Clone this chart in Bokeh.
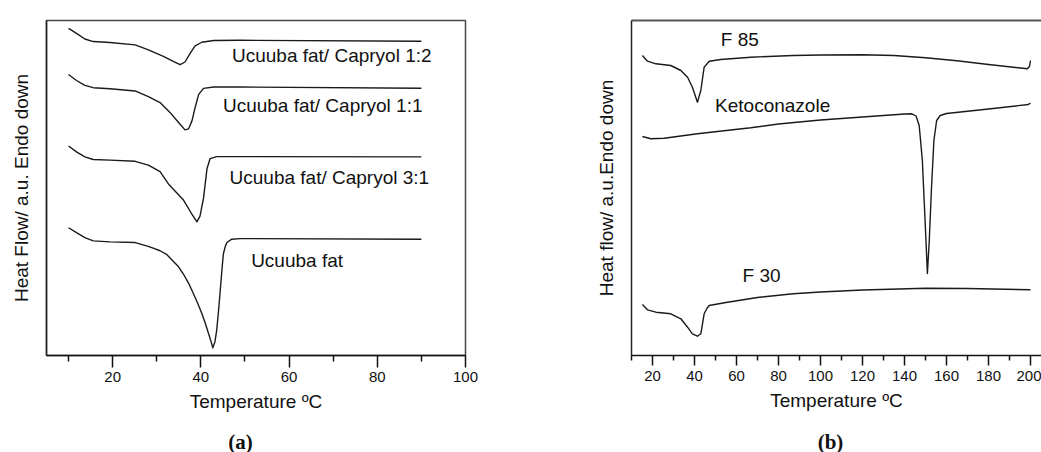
from bokeh.plotting import figure
from bokeh.layouts import row, column
from bokeh.models import Range1d, FixedTicker, LinearAxis, Label
from bokeh.core.properties import value
from bokeh.embed import file_html
from bokeh.resources import INLINE

# ---------------- Panel (a) data: temperature (°C) vs heat flow (a.u., offset) ----------------
a_x_12 = [10, 11.8, 13.7, 15.6, 19.4, 25.1, 28.1, 31.5, 34.2, 35.3, 36.4, 37.6, 38.7, 40.2, 42.9, 48.9, 90]
a_y_12 = [331, 326, 320.3, 317.7, 316.7, 314.3, 309.3, 302.7, 296.7, 294.3, 297, 306, 313.3, 317, 318.7, 319, 318]

a_x_11 = [10, 11.8, 13.7, 15.6, 19.4, 25.1, 28.1, 30.75, 33, 34.9, 36.4, 37.2, 38, 38.7, 39.5, 40.6, 42.9, 48.9, 90]
a_y_11 = [284.3, 278.3, 273.3, 271, 270, 267.7, 262, 256, 246, 236, 228.3, 229.3, 237.7, 251, 264.3, 270.3, 271.7, 271.7, 270.5]

a_x_31 = [10, 11.8, 13.7, 15.6, 19.4, 25.1, 28.1, 30.75, 32.8, 36, 38, 39.1, 39.8, 40.6, 41.4, 42.1, 43.6, 90]
a_y_31 = [212, 206, 201, 198.3, 197.7, 196.5, 192.7, 186, 172.7, 157.7, 142.7, 135.3, 141, 159.3, 189.3, 199.3, 201.3, 201]

a_x_fat = [10, 11.8, 13.7, 15.6, 19.4, 25.1, 27.7, 29.2, 30.75, 32.3, 34.9, 36, 37.2, 38.3, 39.3, 40.2, 41, 41.7, 42.3,
           42.7, 43.2, 43.6, 44, 44.4, 44.8, 45.1, 45.5, 45.9, 47, 48.9, 90]
a_y_fat = [129.3, 124.3, 119.3, 116, 115, 114.3, 111, 108.7, 106, 102, 90, 82.7, 73.3, 62.7, 52.7, 42.7, 32.7, 22.7, 14.3,
           7.7, 14, 26, 45, 66, 88, 102.7, 110, 114.3, 117.7, 118.3, 117.7]

a_labels = ["Ucuuba fat/ Capryol 1:2", "Ucuuba fat/ Capryol 1:1", "Ucuuba fat/ Capryol 3:1", "Ucuuba fat"]
a_ticks = [20, 40, 60, 80, 100]
a_minor = [10, 30, 50, 70, 90]

# ---------------- Panel (b) data ----------------
b_x_f85 = [15.2, 17.6, 21.6, 28.7, 33.5, 36.7, 39, 41.4, 43, 44.6, 47, 52.5, 66.8, 87, 100, 120, 135, 150, 165, 180, 198.5, 199.5, 200]
b_y_f85 = [299, 293.3, 290.7, 289, 284, 277.3, 267.3, 252.3, 264, 287.3, 293.3, 295, 297.3, 299, 299.5, 299.7, 299, 296.7, 293.7, 290, 285.7, 288, 294]

b_x_keto = [15.2, 19.2, 25.5, 30, 41.4, 66.8, 80, 100, 120, 140, 143.5, 145.5, 147, 148.5, 149.8, 150.9, 151.8, 152.8, 154, 155.3, 157, 160, 180, 199, 200]
b_y_keto = [218, 215.7, 216.3, 217.5, 220.7, 226.7, 230.5, 234.5, 237.5, 240.5, 240.7, 238.5, 229, 194, 134, 81, 114, 164, 214, 234, 239, 241, 245.5, 250, 251.5]

b_x_f30 = [15.2, 17.6, 21.6, 28.7, 33.5, 36.7, 39, 41.4, 43, 44.6, 45.9, 47, 55, 70, 87, 100, 120, 150, 170, 200]
b_y_f30 = [50, 44.7, 42.3, 40.7, 35.7, 27.3, 20.7, 18.3, 20.7, 40.7, 46, 49, 52, 57, 60.7, 62.5, 64.5, 66.3, 66, 64.7]

b_labels = ["F 85", "Ketoconazole", "F 30"]
b_ticks = [20, 40, 60, 80, 100, 120, 140, 160, 180, 200]
b_minor = [10, 30, 50, 70, 90, 110, 130, 150, 170, 190]

panel_tags = ["(a)", "(b)"]

FONT = "Liberation Sans"
LINE = "#1a1a1a"


def style_x(ax, standoff):
    ax.axis_label_text_font = FONT
    ax.axis_label_text_font_size = "19px"
    ax.axis_label_text_font_style = "normal"
    ax.axis_label_text_color = "#111111"
    ax.axis_label_standoff = standoff
    ax.major_label_text_font = FONT
    ax.major_label_text_font_size = "15px"
    ax.major_label_text_color = "#111111"
    ax.axis_line_color = "#111111"
    ax.axis_line_width = 1.5
    ax.major_tick_line_color = "#111111"
    ax.minor_tick_line_color = "#111111"
    ax.major_tick_line_width = 1.5
    ax.minor_tick_line_width = 1.5
    ax.major_tick_in = 0
    ax.minor_tick_in = 0


def style_y(ax, label, standoff):
    ax.ticker = FixedTicker(ticks=[])
    ax.axis_label = label
    ax.axis_label_text_font = FONT
    ax.axis_label_text_font_size = "19px"
    ax.axis_label_text_font_style = "normal"
    ax.axis_label_text_color = "#111111"
    ax.axis_label_standoff = standoff
    ax.axis_line_color = "#222222"
    ax.axis_line_width = 1.5
    ax.major_tick_line_color = None
    ax.minor_tick_line_color = None


# ---------------- Panel (a) ----------------
pa = figure(width=520, height=425, output_backend="svg", toolbar_location=None, title_location=None,
            x_range=Range1d(5, 100), y_range=Range1d(0, 339),
            min_border_left=46, min_border_right=55, min_border_top=13, min_border_bottom=69,
            x_axis_label="Temperature ºC")
pa.grid.visible = False
pa.background_fill_color = "white"
pa.border_fill_color = "white"
pa.outline_line_color = "#444444"
pa.outline_line_width = 1.5

xa = pa.xaxis[0]
xa.ticker = FixedTicker(ticks=a_ticks, minor_ticks=a_minor)
style_x(xa, 6)
xa.major_tick_out = 12
xa.minor_tick_out = 6
xa.major_label_standoff = 4
style_y(pa.yaxis[0], "Heat Flow/ a.u. Endo down", 15)

for xs, ys in [(a_x_12, a_y_12), (a_x_11, a_y_11), (a_x_31, a_y_31), (a_x_fat, a_y_fat)]:
    pa.line(xs, ys, line_color=LINE, line_width=1.4, line_join="round")

for txt, lx, ly in zip(a_labels, [47.05, 45.0, 46.5, 51.4], [303.3, 252.7, 180, 96]):
    pa.add_layout(Label(x=lx, y=ly, text=txt, text_font=FONT, text_font_size="19px",
                        text_color="#111111", text_baseline="middle", text_align="left"))

# ---------------- Panel (b) ----------------
pb = figure(width=521, height=425, output_backend="svg", toolbar_location=None, title_location=None,
            x_range=Range1d(10, 10 + 410 / 2.1), y_range=Range1d(-1, 334),
            min_border_left=111, min_border_right=0, min_border_top=20, min_border_bottom=70,
            x_axis_label="Temperature ºC")
pb.grid.visible = False
pb.background_fill_color = "white"
pb.border_fill_color = "white"
pb.outline_line_color = None

xb = pb.xaxis[0]
xb.ticker = FixedTicker(ticks=b_ticks, minor_ticks=b_minor)
style_x(xb, 6)
xb.major_tick_out = 10
xb.minor_tick_out = 5
xb.major_label_standoff = 5
style_y(pb.yaxis[0], "Heat flow/ a.u.Endo down", 15)

top_b = LinearAxis(ticker=FixedTicker(ticks=[]), axis_line_color="#555555", axis_line_width=2,
                   major_tick_line_color=None, minor_tick_line_color=None)
pb.add_layout(top_b, "above")

for xs, ys in [(b_x_f85, b_y_f85), (b_x_keto, b_y_keto), (b_x_f30, b_y_f30)]:
    pb.line(xs, ys, line_color=LINE, line_width=1.4, line_join="round")

for txt, lx, ly in zip(b_labels, [52.5, 49.8, 62.9], [314.7, 249, 79]):
    pb.add_layout(Label(x=lx, y=ly, text=txt, text_font=FONT, text_font_size="19px",
                        text_color="#111111", text_baseline="middle", text_align="left"))

# ---------------- Panel captions strip ----------------
pc = figure(width=1041, height=27, output_backend="svg", toolbar_location=None, title_location=None,
            x_range=Range1d(0, 1041), y_range=Range1d(0, 27), min_border=0,
            x_axis_location=None, y_axis_location=None)
pc.grid.visible = False
pc.outline_line_color = None
pc.background_fill_color = "white"
pc.border_fill_color = "white"
pc.text(x=[240, 830], y=[11, 11], text=panel_tags, text_font=value("Liberation Serif"),
        text_font_size="21px", text_font_style="bold", text_color="#111111",
        text_align="center", text_baseline="middle")

layout = column(row(pa, pb), pc)
open("out.html", "w").write(file_html(layout, INLINE))
